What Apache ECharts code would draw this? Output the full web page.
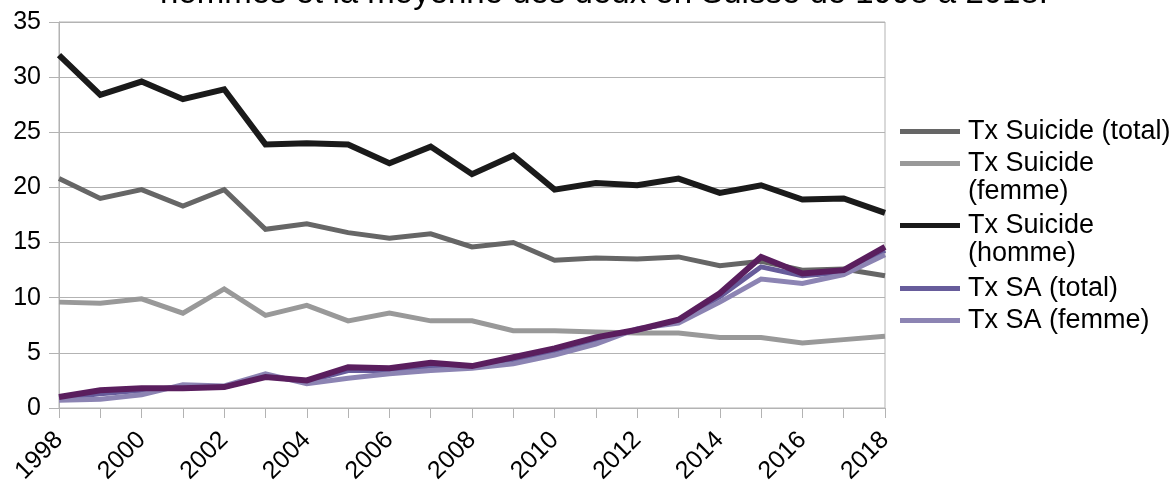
<!DOCTYPE html>
<html>
<head>
<meta charset="utf-8">
<script src="https://cdn.jsdelivr.net/npm/echarts@6/dist/echarts.min.js"></script>
<style>
html,body{margin:0;padding:0;background:#fff;}
#chart{width:1174px;height:484px;}
</style>
</head>
<body>
<div id="chart"></div>
<script>
var years = ['1998','1999','2000','2001','2002','2003','2004','2005','2006','2007','2008','2009','2010','2011','2012','2013','2014','2015','2016','2017','2018'];
var suicideTotal = [20.8,19.0,19.8,18.3,19.8,16.2,16.7,15.9,15.4,15.8,14.6,15.0,13.4,13.6,13.5,13.7,12.9,13.3,12.5,12.6,12.0];
var suicideFemme = [9.6,9.5,9.9,8.6,10.8,8.4,9.3,7.9,8.6,7.9,7.9,7.0,7.0,6.9,6.8,6.8,6.4,6.4,5.9,6.2,6.5];
var suicideHomme = [32.0,28.4,29.6,28.0,28.9,23.9,24.0,23.9,22.2,23.7,21.2,22.9,19.8,20.4,20.2,20.8,19.5,20.2,18.9,19.0,17.7];
var saTotal = [0.9,1.3,1.6,1.9,1.9,2.9,2.4,3.4,3.4,3.8,3.7,4.4,5.2,6.2,7.1,7.9,10.1,12.8,12.0,12.3,14.3];
var saFemme = [0.7,0.8,1.2,2.1,2.0,3.1,2.2,2.7,3.1,3.4,3.6,4.0,4.8,5.8,7.2,7.7,9.6,11.7,11.3,12.1,13.9];
var saHomme = [1.0,1.6,1.8,1.8,1.9,2.8,2.5,3.7,3.6,4.1,3.8,4.6,5.4,6.4,7.1,8.0,10.4,13.7,12.2,12.5,14.6];
var yTicks = {min: 0, max: 35, interval: 5};
var titleText = 'hommes et la moyenne des deux en Suisse de 1998 à 2018.';

var FONT = '"Liberation Sans", Arial, sans-serif';
var names = ['Tx Suicide (total)','Tx Suicide (femme)','Tx Suicide (homme)','Tx SA (total)','Tx SA (femme)','Tx SA (homme)'];
var colors = ['#666666','#999999','#1a1a1a','#675c9b','#8c84b3','#5a1e5e'];
var datas = [suicideTotal, suicideFemme, suicideHomme, saTotal, saFemme, saHomme];
var widths = [5,5,6,5,5,6];
var legendFirst = ['Tx Suicide (total)','Tx Suicide','Tx Suicide','Tx SA (total)','Tx SA (femme)'];
var legendRows = [129,161,223,286,318];

var chart = echarts.init(document.getElementById('chart'));
var legends = [];
for (var i = 0; i < 5; i++) {
  (function(i){
    legends.push({
      data: [names[i]],
      orient: 'vertical',
      left: 900,
      top: legendRows[i] - 11,
      icon: 'rect',
      itemWidth: 60,
      itemHeight: 5,
      itemGap: 0,
      padding: 0,
      formatter: function(){ return legendFirst[i]; },
      textStyle: {fontFamily: FONT, fontSize: 27, color: '#000', padding: [0,0,0,3]},
      selectedMode: false
    });
  })(i);
}
var series = [];
for (var j = 0; j < 6; j++) {
  series.push({
    name: names[j],
    type: 'line',
    data: datas[j],
    symbol: 'none',
    color: colors[j],
    lineStyle: {width: widths[j], color: colors[j], cap: 'butt', join: 'miter'},
    animation: false,
    z: 2 + j
  });
}
chart.setOption({
  animation: false,
  grid: {left: 59, right: 289, top: 22, bottom: 76, show: true, borderColor: '#b3b3b3', borderWidth: 1, containLabel: false, outerBoundsMode: 'none'},
  legend: legends,
  graphic: [
    {type: 'text', style: {text: titleText, x: 604, y: -6, align: 'center', verticalAlign: 'middle', font: '33px ' + FONT, fill: '#000'}},
    {type: 'text', style: {text: '(femme)', x: 968, y: 192, align: 'left', verticalAlign: 'middle', font: '27px ' + FONT, fill: '#000'}},
    {type: 'text', style: {text: '(homme)', x: 968, y: 254, align: 'left', verticalAlign: 'middle', font: '27px ' + FONT, fill: '#000'}}
  ],
  xAxis: {
    type: 'category',
    data: years,
    boundaryGap: false,
    axisLine: {lineStyle: {color: '#b3b3b3', width: 1}},
    axisTick: {show: true, interval: 0, length: 10, lineStyle: {color: '#b3b3b3'}},
    axisLabel: {interval: 1, rotate: 45, margin: 28, fontFamily: FONT, fontSize: 25, color: '#000'},
    splitLine: {show: false}
  },
  yAxis: {
    type: 'value',
    min: yTicks.min,
    max: yTicks.max,
    interval: yTicks.interval,
    axisLine: {show: true, lineStyle: {color: '#b3b3b3', width: 1}},
    axisTick: {show: true, length: 10, lineStyle: {color: '#b3b3b3'}},
    axisLabel: {margin: 18, fontFamily: FONT, fontSize: 25, color: '#000'},
    splitLine: {show: true, lineStyle: {color: '#b3b3b3', width: 1}}
  },
  series: series
});
</script>
</body>
</html>
